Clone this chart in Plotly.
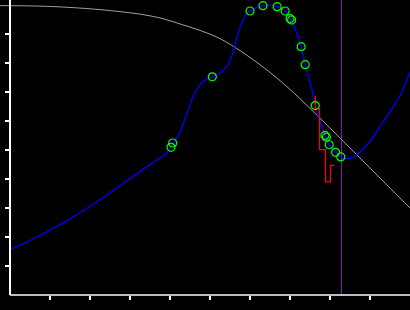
import plotly.graph_objects as go

# Gray decreasing curve (data units)
gray_x = [-0.25, 0.75, 1.5, 2.25, 2.75, 3.25, 3.75, 4.25, 4.75, 5.25, 5.75, 6.25,
          6.75, 7.25, 7.75, 8.25, 8.75, 9.25, 9.75, 10.0]
gray_y = [9.976, 9.959, 9.914, 9.838, 9.769, 9.683, 9.552, 9.345, 9.121, 8.838,
          8.424, 7.941, 7.390, 6.769, 6.097, 5.414, 4.724, 4.034, 3.345, 3.0]

# Blue fitted curve
blue_x = [0.0, 0.58, 1.42, 2.25, 3.08, 3.58, 3.92, 4.05, 4.25, 4.46, 4.58,
          4.75, 4.92, 5.058, 5.25, 5.42, 5.54, 5.64, 5.75, 5.875, 6.0, 6.325, 6.68,
          6.88, 7.02, 7.17, 7.28, 7.38, 7.48, 7.58, 7.63, 7.71, 7.79, 7.89,
          7.98, 8.14, 8.27, 8.42, 8.54, 8.75, 9.0, 9.25, 9.5, 9.75, 10.0]
blue_y = [1.562, 1.931, 2.562, 3.286, 4.090, 4.572, 4.897, 5.17, 5.62, 6.39,
          6.85, 7.25, 7.45, 7.52, 7.66, 7.87, 8.22, 8.70, 9.22, 9.61, 9.79, 9.976,
          9.94, 9.79, 9.50, 9.03, 8.56, 7.94, 7.43, 6.91, 6.53, 6.16, 5.81,
          5.47, 5.18, 4.92, 4.76, 4.70, 4.73, 4.92, 5.30, 5.80, 6.32, 6.87, 7.69]

# Observed points (green circles)
pts_x = [4.025, 4.068, 5.058, 6.0, 6.325, 6.68, 6.88, 7.0, 7.04, 7.28, 7.38, 7.63,
         7.875, 7.91, 7.98, 8.14, 8.27]
pts_y = [5.09, 5.24, 7.52, 9.79, 9.976, 9.94, 9.79, 9.53, 9.48, 8.56, 7.94, 6.53,
         5.50, 5.44, 5.18, 4.92, 4.76]

# Red step line
step_x = [7.633, 7.738, 7.888, 8.013, 8.113]
step_y = [6.872, 6.424, 5.010, 3.897, 4.469]

# Vertical marker line
vline_x = 8.2875

x_ticks = [1, 2, 3, 4, 5, 6, 7, 8, 9]
y_ticks = [1, 2, 3, 4, 5, 6, 7, 8, 9]

fig = go.Figure()
fig.add_trace(go.Scatter(x=gray_x, y=gray_y, mode="lines",
                         line=dict(color="#a0a0a0", width=1, shape="spline", smoothing=1),
                         hoverinfo="skip"))
fig.add_trace(go.Scatter(x=blue_x, y=blue_y, mode="lines",
                         line=dict(color="#0000ff", width=1.3, shape="spline", smoothing=0.9),
                         hoverinfo="skip"))
fig.add_trace(go.Scatter(x=step_x, y=step_y, mode="lines",
                         line=dict(color="#ff0000", width=1.3, shape="vh"), hoverinfo="skip"))
fig.add_trace(go.Scatter(x=pts_x, y=pts_y, mode="markers",
                         marker=dict(symbol="circle-open", size=8, color="#00ff00",
                                     line=dict(width=1.2, color="#00ff00")),
                         hoverinfo="skip"))

fig.add_shape(type="line", xref="x", yref="paper", x0=vline_x, x1=vline_x, y0=0, y1=1,
              line=dict(color="#8a10b0", width=1), layer="below")
fig.add_shape(type="line", xref="x", yref="paper", x0=0, x1=10, y0=0, y1=0,
              line=dict(color="white", width=1.5), layer="above")

fig.update_layout(
    width=410, height=310,
    margin=dict(l=0, r=0, t=0, b=15, pad=0),
    paper_bgcolor="black", plot_bgcolor="black",
    showlegend=False,
    xaxis=dict(range=[-0.25, 10], domain=[0, 1], showgrid=False, zeroline=False,
               showline=False, tickvals=x_ticks, showticklabels=False,
               ticks="outside", ticklen=4, tickwidth=1.5, tickcolor="white"),
    yaxis=dict(range=[0, 10.17], anchor="free", position=10 / 410, showgrid=False,
               zeroline=False, showline=True, linecolor="white", linewidth=1.5,
               tickvals=y_ticks, showticklabels=False,
               ticks="outside", ticklen=4, tickwidth=1.5, tickcolor="white"),
)

fig.write_html("out.html")
